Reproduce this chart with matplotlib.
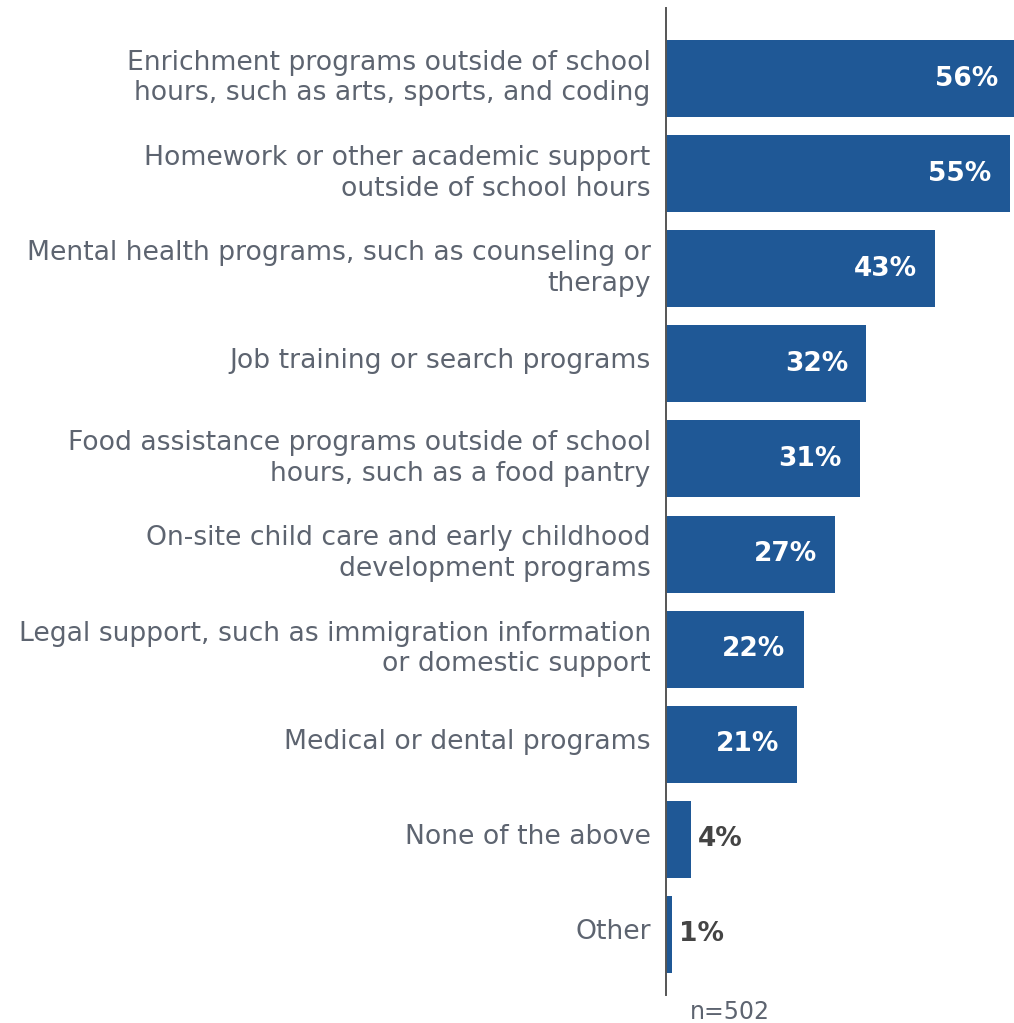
import matplotlib
matplotlib.use("Agg")
import matplotlib.pyplot as plt
from matplotlib.transforms import ScaledTranslation

categories = [
    "Enrichment programs outside of school\nhours, such as arts, sports, and coding",
    "Homework or other academic support\noutside of school hours",
    "Mental health programs, such as counseling or\ntherapy",
    "Job training or search programs",
    "Food assistance programs outside of school\nhours, such as a food pantry",
    "On-site child care and early childhood\ndevelopment programs",
    "Legal support, such as immigration information\nor domestic support",
    "Medical or dental programs",
    "None of the above",
    "Other",
]
values = [56, 55, 43, 32, 31, 27, 22, 21, 4, 1]
sample_note = "n=502"

BAR_COLOR = "#1f5896"
LABEL_GRAY = "#5d6470"
DARK_TEXT = "#444444"

plt.rcParams["font.family"] = ["DejaVu Sans"]

fig = plt.figure(figsize=(10.14, 10.23), dpi=100)
W, H = 1014, 1023
ax_left, ax_right = 666, 1014
ax_top, ax_bottom = 8, 995
ax = fig.add_axes([ax_left / W, 1 - ax_bottom / H, (ax_right - ax_left) / W, (ax_bottom - ax_top) / H])

ypos = list(range(len(categories)))
ax.barh(ypos, values, height=0.81, color=BAR_COLOR, zorder=2)

ax.set_xlim(0, 55.68)
ax.set_ylim(len(categories) - 1 + 0.637, -0.742)

ax.set_yticks(ypos)
ax.set_yticklabels(categories, fontsize=19.2, color=LABEL_GRAY, linespacing=1.22)
ax.tick_params(axis="y", length=0, pad=11)
ax.set_xticks([])

# nudge category labels slightly upward
lift = ScaledTranslation(0, 4 / 72, fig.dpi_scale_trans)
for lbl in ax.get_yticklabels():
    lbl.set_transform(lbl.get_transform() + lift)

for side in ["top", "right", "bottom"]:
    ax.spines[side].set_visible(False)
ax.spines["left"].set_color("#555555")
ax.spines["left"].set_linewidth(1.4)
ax.spines["left"].set_zorder(3)

for y, v in zip(ypos, values):
    if v >= 10:
        ax.annotate(f"{v}%", xy=(v, y), xytext=(-13, 0), textcoords="offset points",
                    ha="right", va="center", fontsize=19, fontweight="bold",
                    color="white", annotation_clip=False)
    else:
        ax.annotate(f"{v}%", xy=(v, y), xytext=(5, 0), textcoords="offset points",
                    ha="left", va="center", fontsize=19, fontweight="bold",
                    color=DARK_TEXT, annotation_clip=False)

fig.text(730 / W, 1 - 1012 / H, sample_note, ha="center", va="center",
         fontsize=17, color=LABEL_GRAY)

fig.savefig("out.png", dpi=100, facecolor="white")
